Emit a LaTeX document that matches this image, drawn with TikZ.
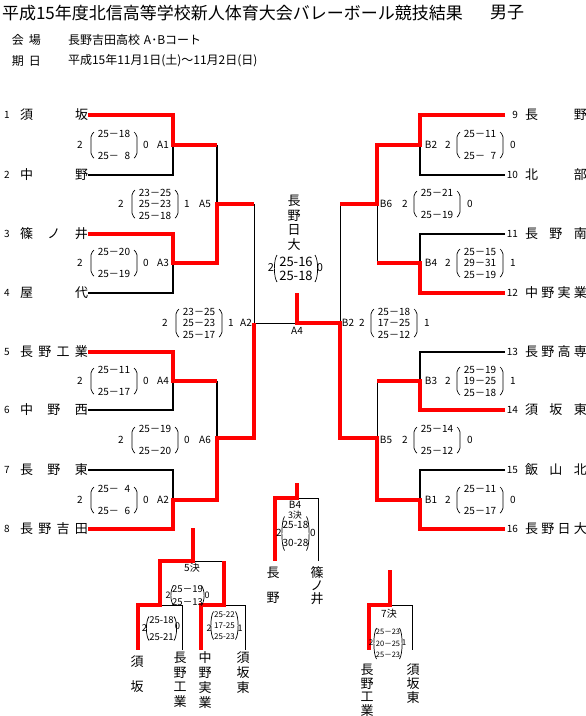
\documentclass[tikz,border=0pt]{standalone}
\usepackage{fontspec}
\setmainfont{Noto Sans CJK JP}
\newcommand\pblk[6]{%
  \node[sc] (#1) at (#2,#3) {#4};
  \draw[paren] (#2-#6+3,#3-#5) -- (#2-#6,#3-#5+3) -- (#2-#6,#3+#5-3) -- (#2-#6+3,#3+#5);
  \draw[paren] (#2+#6-3,#3-#5) -- (#2+#6,#3-#5+3) -- (#2+#6,#3+#5-3) -- (#2+#6-3,#3+#5);
}
% left match: name cx cy text h L R label labeloffset
\newcommand\lmatch[9]{%
  \pblk{#1}{#2}{#3}{#4}{#5}{23}
  \node[sn] (#1l) at (#2-34,#3) {#6};
  \node[sn] (#1r) at (#2+32,#3) {#7};
  \node[sn] (#1n) at (#2+#9,#3) {#8};
}
\newcommand\rmatch[9]{%
  \pblk{#1}{#2}{#3}{#4}{#5}{23}
  \node[sn] (#1l) at (#2-32,#3) {#6};
  \node[sn] (#1r) at (#2+33,#3) {#7};
  \node[sn] (#1n) at (#2-#9,#3) {#8};
}
% round paren block: style name cx cy text h w
\newcommand\rblk[7]{%
  \node[#1] (#2) at (#3,#4) {#5};
  \draw[rparen] (#3-#7+2.5,#4-#6) .. controls (#3-#7-1,#4-#6+5) and (#3-#7-1,#4+#6-5) .. (#3-#7+2.5,#4+#6);
  \draw[rparen] (#3+#7-2.5,#4-#6) .. controls (#3+#7+1,#4-#6+5) and (#3+#7+1,#4+#6-5) .. (#3+#7-2.5,#4+#6);
}
\begin{document}
\begin{tikzpicture}[x=1pt,y=-1pt,
  every node/.style={inner sep=0pt,outer sep=0pt},
  ttl/.style={font=\fontsize{17}{20}\selectfont,anchor=west},
  hdr/.style={font=\fontsize{12}{14}\selectfont,anchor=west},
  tnum/.style={font=\fontsize{10}{12}\selectfont},
  tname/.style={font=\fontsize{13}{15}\selectfont},
  vname/.style={font=\fontsize{13}{14.7}\selectfont,align=center,anchor=north},
  sn/.style={font=\fontsize{10}{12}\selectfont},
  sc/.style={align=center,font=\fontsize{10}{11.5}\selectfont},
  scs/.style={align=center,font=\fontsize{9.5}{13}\selectfont},
  scx/.style={align=center,font=\fontsize{8}{11}\selectfont},
  scm/.style={align=center,font=\fontsize{9.5}{17}\selectfont},
  sct/.style={align=center,font=\fontsize{10}{18}\selectfont},
  scc/.style={align=center,font=\fontsize{13}{14}\selectfont},
  sct7/.style={align=center,font=\fontsize{7.5}{11.5}\selectfont},
  paren/.style={line width=0.7pt,rounded corners=2pt},
  rparen/.style={line width=0.7pt},
  win/.style={draw=red,line width=4pt},
  lose/.style={draw=black,line width=1.6pt},
  link/.style={draw=black,line width=1pt},
]
\useasboundingbox (0,0) rectangle (586,716);

% header
\node[ttl] (title) at (2,13) {平成15年度北信高等学校新人体育大会バレーボール競技結果};
\node[ttl] (boys) at (490,13) {男子};
\node[hdr] (h1) at (12,40) {会\hspace{5pt}場};
\node[hdr] (h1v) at (68,40) {長野吉田高校\hspace{4pt}A･Bコート};
\node[hdr] (h2) at (12,61) {期\hspace{5pt}日};
\node[hdr] (h2v) at (68,61) {平成15年11月1日(土)～11月2日(日)};

% left teams
\node[tnum] (n1) at (7,115) {1};
\node[tname,anchor=west] (t1) at (20,115) {\makebox[68pt][s]{須\hfill 坂}};
\node[tnum] (n2) at (7,175) {2};
\node[tname,anchor=west] (t2) at (20,175) {\makebox[68pt][s]{中\hfill 野}};
\node[tnum] (n3) at (7,234) {3};
\node[tname,anchor=west] (t3) at (20,234) {\makebox[68pt][s]{篠\hfill ノ\hfill 井}};
\node[tnum] (n4) at (7,293) {4};
\node[tname,anchor=west] (t4) at (20,293) {\makebox[68pt][s]{屋\hfill 代}};
\node[tnum] (n5) at (7,352) {5};
\node[tname,anchor=west] (t5) at (20,352) {\makebox[68pt][s]{長\hfill 野\hfill 工\hfill 業}};
\node[tnum] (n6) at (7,410) {6};
\node[tname,anchor=west] (t6) at (20,410) {\makebox[68pt][s]{中\hfill 野\hfill 西}};
\node[tnum] (n7) at (7,470) {7};
\node[tname,anchor=west] (t7) at (20,470) {\makebox[68pt][s]{長\hfill 野\hfill 東}};
\node[tnum] (n8) at (7,529) {8};
\node[tname,anchor=west] (t8) at (20,529) {\makebox[68pt][s]{長\hfill 野\hfill 吉\hfill 田}};

% right teams
\node[tnum,anchor=east] (n9) at (518,115) {9};
\node[tname,anchor=west] (t9) at (525,115) {\makebox[62pt][s]{長\hfill 野}};
\node[tnum,anchor=east] (n10) at (518,175) {10};
\node[tname,anchor=west] (t10) at (525,175) {\makebox[62pt][s]{北\hfill 部}};
\node[tnum,anchor=east] (n11) at (518,234) {11};
\node[tname,anchor=west] (t11) at (525,234) {\makebox[62pt][s]{長\hfill 野\hfill 南}};
\node[tnum,anchor=east] (n12) at (518,293) {12};
\node[tname,anchor=west] (t12) at (525,293) {\makebox[62pt][s]{中\hfill 野\hfill 実\hfill 業}};
\node[tnum,anchor=east] (n13) at (518,352) {13};
\node[tname,anchor=west] (t13) at (525,352) {\makebox[62pt][s]{長\hfill 野\hfill 高\hfill 専}};
\node[tnum,anchor=east] (n14) at (518,410) {14};
\node[tname,anchor=west] (t14) at (525,410) {\makebox[62pt][s]{須\hfill 坂\hfill 東}};
\node[tnum,anchor=east] (n15) at (518,470) {15};
\node[tname,anchor=west] (t15) at (525,470) {\makebox[62pt][s]{飯\hfill 山\hfill 北}};
\node[tnum,anchor=east] (n16) at (518,529) {16};
\node[tname,anchor=west] (t16) at (525,529) {\makebox[62pt][s]{長\hfill 野\hfill 日\hfill 大}};

% line ends on right
\foreach \i/\y in {9/115,10/175,11/234,12/293,13/352,14/410,15/470,16/529}
  \coordinate (e\i) at (505,\y);

% junctions
\coordinate (j1) at (173,145); \coordinate (j3) at (173,263);
\coordinate (j4) at (173,381); \coordinate (j2) at (173,500);
\coordinate (k1) at (217,145); \coordinate (k3) at (217,263);
\coordinate (k4) at (217,381); \coordinate (k2) at (217,500);
\coordinate (m5) at (217,204); \coordinate (m6) at (217,438);
\coordinate (s1) at (254,204); \coordinate (s2) at (254,438);
\coordinate (sf) at (254,323); \coordinate (fm) at (297,323);
\coordinate (fc) at (297,293); \coordinate (rf) at (340,323);
\coordinate (r1) at (340,204); \coordinate (r2) at (340,438);
\coordinate (q6) at (377,204); \coordinate (q5) at (377,438);
\coordinate (p2) at (377,145); \coordinate (p4) at (377,263);
\coordinate (p3) at (377,381); \coordinate (p1) at (377,500);
\coordinate (o2) at (420,145); \coordinate (o4) at (420,263);
\coordinate (o3) at (420,381); \coordinate (o1) at (420,500);

% black lines
\draw[lose] (t2.east) -| (j1);
\draw[lose] (k1) -- (m5);
\draw[lose] (t4.east) -| (j3);
\draw[lose] (t6.east) -| (j4);
\draw[lose] (k4) -- (m6);
\draw[lose] (t7.east) -| (j2);
\draw[link] (s1) -- (sf) -- (fm);
\draw[link] (fm) -- (rf) -- (r1);
\draw[lose] (e10) -| (o2);
\draw[link] (q6) -- (p4);
\draw[lose] (e11) -| (o4);
\draw[lose] (e13) -| (o3);
\draw[link] (p3) -- (q5);
\draw[lose] (e15) -| (o1);

% red lines
\draw[win] (t1.east) -| (j1) -- (k1);
\draw[win] (t3.east) -| (j3) -- (k3) -- (m5) -- (s1);
\draw[win] (t5.east) -| (j4) -- (k4);
\draw[win] (t8.east) -| (j2) -- (k2) -- (m6) -- (s2) -- (sf);
\draw[win] (fc) -- (fm) -- (rf) -- (r2) -- (q5) -- (p1) -- (o1) |- (e16);
\draw[win] (e9) -| (o2) -- (p2) -- (q6) -- (r1);
\draw[win] (e12) -| (o4) -- (p4);
\draw[win] (e14) -| (o3) -- (p3);

% left scores
\lmatch{mA1}{114}{145}{25－18\\[10pt]25－\phantom{0}8}{13}{2}{0}{A1}{49}
\lmatch{mA3}{114}{263}{25－20\\[10pt]25－19}{13}{2}{0}{A3}{49}
\lmatch{mA4}{114}{381}{25－11\\[10pt]25－17}{13}{2}{0}{A4}{49}
\lmatch{mA2a}{114}{500}{25－\phantom{0}4\\[10pt]25－\phantom{0}6}{13}{2}{0}{A2}{49}
\lmatch{mA5}{155}{204}{23－25\\25－23\\25－18}{14}{2}{1}{A5}{50}
\lmatch{mA6}{155}{440}{25－19\\[10pt]25－20}{13}{2}{0}{A6}{50}
\lmatch{mA2b}{199}{323}{23－25\\25－23\\25－17}{14}{2}{1}{A2}{47}
\node[sn] (A4f) at (297,331) {A4};

% right scores
\rmatch{mB2a}{480}{145}{25－11\\[10pt]25－\phantom{0}7}{13}{2}{0}{B2}{49}
\rmatch{mB6}{437}{204}{25－21\\[10pt]25－19}{13}{2}{0}{B6}{51}
\rmatch{mB4}{480}{263}{25－15\\29－31\\25－19}{14}{2}{1}{B4}{49}
\rmatch{mB2b}{394}{323}{25－18\\17－25\\25－12}{14}{2}{1}{B2}{46}
\rmatch{mB3}{480}{381}{25－19\\19－25\\25－18}{14}{2}{1}{B3}{49}
\rmatch{mB5}{437}{440}{25－14\\[10pt]25－12}{13}{2}{0}{B5}{51}
\rmatch{mB1}{480}{500}{25－11\\[10pt]25－17}{13}{2}{0}{B1}{49}

% champion
\node[vname] (champ) at (294,195) {長\\野\\日\\大};
\rblk{scc}{cF}{296}{268.5}{25-16\\25-18}{13.5}{21.5}
\node[sn,font=\fontsize{11}{12}\selectfont] (cFl) at (271,268) {2};
\node[sn,font=\fontsize{11}{12}\selectfont] (cFr) at (320,268) {0};

% 3rd place
\coordinate (b3t) at (297,483); \coordinate (b3m) at (297,498);
\coordinate (b3l) at (275,498); \coordinate (b3r) at (318,498);
\coordinate (b3lb) at (275,561); \coordinate (b3rb) at (318,561);
\draw[link] (b3m) -- (b3r) -- (b3rb);
\draw[win] (b3t) -- (b3m) -- (b3l) -- (b3lb);
\node[sn] (b3lab) at (295,505) {B4};
\node[sn,font=\fontsize{9}{10}\selectfont] (b3k) at (295,515) {3決};
\rblk{sct}{b3s}{295.5}{533.5}{25-18\\30-28}{17}{13.5}
\node[sn] (b3sl) at (279,533) {2};
\node[sn] (b3sr) at (313,533) {0};
\node[vname] (b3na) at (273,567) {長\\[10pt]野};
\node[vname,font=\fontsize{13}{13}\selectfont] (b3nb) at (317,567) {篠\\ノ\\井};

% 5th place
\coordinate (c5t) at (193,528); \coordinate (c5m) at (193,561);
\coordinate (c5l) at (160,561); \coordinate (c5r) at (224,561);
\coordinate (c5a) at (160,605); \coordinate (c5b) at (138,605);
\coordinate (c5c) at (138,650); \coordinate (c5d) at (182,605);
\coordinate (c5e) at (182,650); \coordinate (c5f) at (224,605);
\coordinate (c5g) at (201,605); \coordinate (c5h) at (201,650);
\coordinate (c5i) at (245,605); \coordinate (c5j) at (245,650);
\draw[link] (c5m) -- (c5r);
\draw[link] (c5a) -- (c5d) -- (c5e);
\draw[link] (c5f) -- (c5i) -- (c5j);
\draw[win] (c5t) -- (c5m) -- (c5l) -- (c5a) -- (c5b) -- (c5c);
\draw[win] (c5r) -- (c5f) -- (c5g) -- (c5h);
\node[sn] (c5k) at (192,568) {5決};
\rblk{scs}{c5s}{187.5}{595.5}{25－19\\25－13}{10}{16.5}
\node[sn,font=\fontsize{9}{10}\selectfont] (c5sl) at (168,595) {2};
\node[sn,font=\fontsize{9}{10}\selectfont] (c5sr) at (207,595) {0};
\rblk{scm}{c5p}{161.5}{628.5}{25-18\\25-21}{12}{15}
\node[sn,font=\fontsize{9.5}{10}\selectfont] (c5pl) at (144.5,628) {2};
\node[sn,font=\fontsize{9.5}{10}\selectfont] (c5pr) at (177.5,626) {0};
\rblk{scx}{c5q}{224.5}{625.5}{25-22\\17-25\\25-23}{14}{13.5}
\node[sn,font=\fontsize{9}{10}\selectfont] (c5ql) at (209,628) {2};
\node[sn,font=\fontsize{9}{10}\selectfont] (c5qr) at (240,628) {1};
\node[vname] (c5n1) at (137,656) {須\\[10pt]坂};
\node[vname] (c5n2) at (180,652) {長\\野\\工\\業};
\node[vname] (c5n3) at (205,652) {中\\野\\実\\業};
\node[vname] (c5n4) at (243,652) {須\\坂\\東};

% 7th place
\coordinate (d7t) at (390,570); \coordinate (d7m) at (390,605);
\coordinate (d7l) at (369,605); \coordinate (d7lb) at (369,650);
\coordinate (d7r) at (412,605); \coordinate (d7rb) at (412,650);
\draw[link] (d7m) -- (d7r) -- (d7rb);
\draw[win] (d7t) -- (d7m) -- (d7l) -- (d7lb);
\node[sn] (d7k) at (389,614) {7決};
\rblk{sct7}{d7s}{388}{643.5}{25－23\\20－25\\25－23}{15.5}{14}
\node[sn,font=\fontsize{8}{9}\selectfont] (d7sl) at (371,643) {2};
\node[sn,font=\fontsize{8}{9}\selectfont] (d7sr) at (404,643) {1};
\node[vname,font=\fontsize{13}{13.7}\selectfont] (d7n1) at (367,664) {長\\野\\工\\業};
\node[vname,font=\fontsize{13}{13.7}\selectfont] (d7n2) at (413,664) {須\\坂\\東};
\end{tikzpicture}
\end{document}
